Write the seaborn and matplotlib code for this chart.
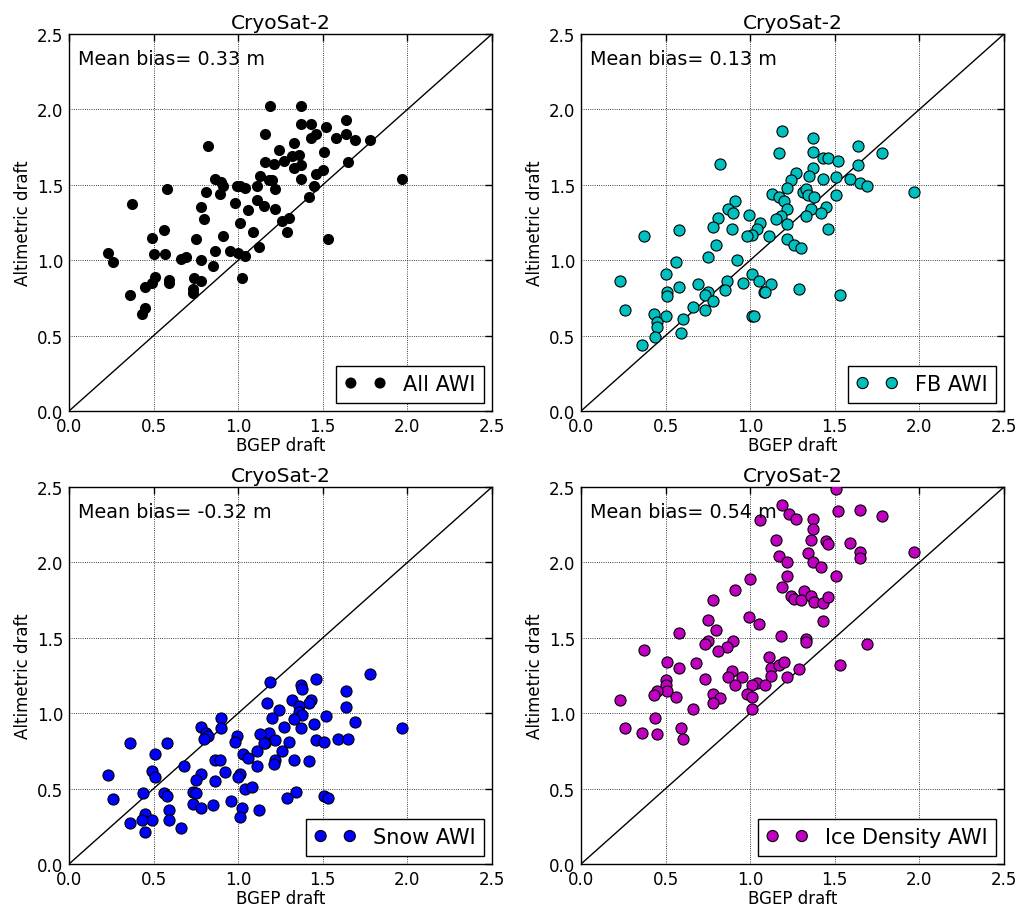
import matplotlib
matplotlib.use("Agg")
import matplotlib.pyplot as plt
import seaborn as sns
import pandas as pd

# ---------------- data ----------------
all_x = [0.82,0.86,0.90,0.91,0.99,1.01,1.04,0.58,0.81,0.89,0.37,0.98,0.78,1.06,0.80,1.01,0.56,0.49,0.91,0.75,
         0.23,0.26,0.50,0.57,0.66,0.69,0.78,0.86,0.95,1.00,1.04,0.85,1.02,0.51,0.49,0.45,0.59,0.59,0.74,0.78,
         0.73,0.73,0.36,0.45,0.43,
         1.19,1.37,1.64,1.37,1.43,1.52,1.16,1.46,1.43,1.64,1.58,1.69,1.78,1.33,1.24,1.51,1.32,1.36,1.27,1.16,
         1.21,1.37,1.33,1.65,1.50,1.46,1.13,1.37,1.18,1.20,1.11,1.45,1.22,1.97,1.42,1.11,1.15,1.22,1.26,1.30,
         1.29,1.09,1.53,1.12]
all_y = [1.76,1.54,1.52,1.49,1.49,1.49,1.48,1.47,1.45,1.44,1.37,1.38,1.35,1.33,1.27,1.25,1.20,1.15,1.16,1.14,
         1.05,0.99,1.04,1.04,1.01,1.02,1.00,1.06,1.06,1.05,1.03,0.96,0.88,0.89,0.85,0.82,0.87,0.85,0.88,0.86,
         0.81,0.78,0.77,0.68,0.64,
         2.02,2.02,1.93,1.90,1.90,1.88,1.84,1.84,1.81,1.84,1.81,1.80,1.80,1.78,1.73,1.72,1.69,1.70,1.66,1.65,
         1.64,1.63,1.61,1.65,1.60,1.57,1.56,1.54,1.53,1.53,1.49,1.49,1.47,1.54,1.42,1.40,1.36,1.34,1.26,1.28,
         1.19,1.19,1.14,1.09]

fb_x = [0.82,0.91,0.87,0.90,0.99,0.81,1.06,1.04,1.01,0.98,0.58,0.78,0.89,0.37,0.80,0.75,0.92,0.56,0.50,1.01,
        1.05,0.23,0.86,0.96,0.69,0.58,0.51,0.51,0.75,0.73,0.85,1.08,0.78,0.66,0.73,0.26,0.43,0.50,0.45,0.45,
        0.60,1.01,1.02,0.59,0.44,0.36,
        1.19,1.37,1.64,1.17,1.37,1.43,1.46,1.52,1.78,1.64,1.37,1.27,1.35,1.24,1.43,1.51,1.59,1.65,1.69,1.97,
        1.22,1.13,1.31,1.33,1.34,1.38,1.17,1.20,1.51,1.22,1.36,1.45,1.42,1.18,1.15,1.33,1.22,1.46,1.11,1.22,
        1.26,1.30,1.12,1.09,1.29,1.53]
fb_y = [1.64,1.39,1.34,1.31,1.30,1.28,1.25,1.21,1.17,1.16,1.20,1.22,1.21,1.16,1.10,1.02,1.00,0.99,0.91,0.91,
        0.86,0.86,0.86,0.85,0.84,0.82,0.79,0.76,0.79,0.77,0.80,0.79,0.73,0.69,0.67,0.67,0.64,0.63,0.59,0.56,
        0.61,0.63,0.63,0.52,0.49,0.44,
        1.86,1.81,1.76,1.71,1.72,1.68,1.68,1.66,1.71,1.63,1.61,1.58,1.56,1.53,1.54,1.55,1.54,1.51,1.49,1.45,
        1.48,1.44,1.45,1.47,1.43,1.42,1.42,1.39,1.43,1.34,1.34,1.35,1.31,1.29,1.27,1.29,1.24,1.21,1.16,1.14,
        1.10,1.08,0.84,0.79,0.81,0.77]

snow_x = [0.36,0.58,0.78,0.81,0.82,0.80,0.90,0.90,0.99,0.98,0.51,0.68,0.49,0.51,0.23,1.03,1.06,0.86,0.89,0.78,
          0.75,0.92,0.86,1.01,1.00,0.44,0.56,0.58,0.73,0.75,1.04,1.08,0.26,0.73,0.78,0.85,0.96,0.59,0.45,0.49,
          0.43,0.59,0.36,0.45,0.66,1.02,1.01,
          1.78,1.19,1.46,1.37,1.38,1.64,1.32,1.43,1.42,1.17,1.36,1.24,1.64,1.36,1.38,1.52,1.20,1.33,1.69,1.45,
          1.27,1.37,1.97,1.18,1.13,1.59,1.65,1.46,1.51,1.22,1.30,1.16,1.15,1.11,1.26,1.22,1.21,1.33,1.42,1.11,
          1.34,1.29,1.51,1.53,1.12]
snow_y = [0.80,0.80,0.91,0.87,0.85,0.83,0.97,0.90,0.85,0.81,0.73,0.65,0.62,0.58,0.59,0.73,0.70,0.69,0.69,0.60,
          0.56,0.61,0.55,0.60,0.58,0.47,0.47,0.45,0.48,0.47,0.50,0.51,0.43,0.40,0.37,0.39,0.42,0.36,0.33,0.29,
          0.29,0.29,0.27,0.21,0.24,0.37,0.31,
          1.26,1.21,1.23,1.19,1.16,1.15,1.09,1.09,1.07,1.07,1.05,1.02,1.04,1.01,0.99,0.98,0.97,0.96,0.94,0.93,
          0.91,0.90,0.90,0.87,0.86,0.83,0.83,0.82,0.81,0.82,0.81,0.80,0.80,0.75,0.75,0.69,0.66,0.69,0.68,0.65,
          0.48,0.44,0.45,0.44,0.36]

dens_x = [1.06,1.00,0.91,0.78,0.75,0.80,0.99,1.05,0.58,0.75,0.73,0.90,0.86,0.81,0.37,0.51,0.58,0.68,0.73,0.89,
          0.87,0.95,0.91,1.04,1.01,0.50,0.50,0.51,0.45,0.43,0.56,0.78,0.82,0.78,0.98,1.01,1.01,0.23,0.66,0.44,
          0.26,0.36,0.45,0.59,0.60,
          1.51,1.19,1.23,1.27,1.37,1.52,1.65,1.78,1.37,1.15,1.36,1.45,1.46,1.59,1.65,1.65,1.97,1.17,1.22,1.34,
          1.37,1.42,1.22,1.51,1.19,1.32,1.24,1.26,1.30,1.36,1.38,1.43,1.46,1.43,1.18,1.33,1.33,1.69,1.11,1.12,
          1.17,1.20,1.12,1.09,1.22,1.29,1.53]
dens_y = [2.28,1.89,1.82,1.75,1.62,1.55,1.64,1.59,1.53,1.48,1.46,1.48,1.44,1.41,1.42,1.34,1.30,1.33,1.23,1.28,
          1.24,1.24,1.19,1.20,1.19,1.22,1.19,1.15,1.15,1.12,1.11,1.13,1.10,1.07,1.13,1.11,1.03,1.09,1.03,0.97,
          0.90,0.87,0.86,0.90,0.83,
          2.49,2.38,2.32,2.29,2.29,2.34,2.35,2.31,2.22,2.15,2.15,2.14,2.12,2.13,2.07,2.03,2.07,2.04,2.00,2.06,
          2.00,1.97,1.91,1.91,1.84,1.81,1.78,1.76,1.75,1.78,1.74,1.73,1.77,1.61,1.51,1.49,1.47,1.46,1.37,1.30,
          1.32,1.34,1.25,1.19,1.24,1.29,1.32]

labels = ["All AWI", "FB AWI", "Snow AWI", "Ice Density AWI"]
bias_texts = ["Mean bias= 0.33 m", "Mean bias= 0.13 m", "Mean bias= -0.32 m", "Mean bias= 0.54 m"]
colors = ["#000000", "#00bfbf", "#0000ff", "#bf00bf"]
title = "CryoSat-2"
ticks = [0.0, 0.5, 1.0, 1.5, 2.0, 2.5]
tick_labels = ["0.0", "0.5", "1.0", "1.5", "2.0", "2.5"]

panels = [(all_x, all_y), (fb_x, fb_y), (snow_x, snow_y), (dens_x, dens_y)]

# ---------------- plot ----------------
sns.set_style("white")
plt.rcParams["font.family"] = ["DejaVu Sans"]
for k in ["text.color", "axes.labelcolor", "xtick.color", "ytick.color", "axes.edgecolor"]:
    plt.rcParams[k] = "black"

fig = plt.figure(figsize=(10.25, 9.12), dpi=100)
positions = [
    [69/1025, 1-412/912, 423/1025, 377/912],
    [581/1025, 1-412/912, 423/1025, 377/912],
    [69/1025, 1-865/912, 423/1025, 377/912],
    [581/1025, 1-865/912, 423/1025, 377/912],
]

for i, ((xs, ys), lab, bt, col, pos) in enumerate(zip(panels, labels, bias_texts, colors, positions)):
    ax = fig.add_axes(pos)
    df = pd.DataFrame({"x": xs, "y": ys})
    ax.plot([0, 2.5], [0, 2.5], color="black", lw=1.0, zorder=1)
    sns.scatterplot(data=df, x="x", y="y", ax=ax, color=col, s=64,
                    edgecolor="black", linewidth=0.8 if i > 0 else 0.0,
                    label=lab, zorder=3)
    ax.set_xlim(0, 2.5)
    ax.set_ylim(0, 2.5)
    ax.set_xticks(ticks)
    ax.set_yticks(ticks)
    ax.set_xticklabels(tick_labels, fontsize=12)
    ax.set_yticklabels(tick_labels, fontsize=12)
    ax.tick_params(direction="in", top=True, right=True, length=5, width=1)
    ax.tick_params(axis="x", pad=4)
    ax.tick_params(axis="y", pad=4)
    ax.grid(True, linestyle=":", color="black", linewidth=0.6)
    ax.set_axisbelow(True)
    for sp in ax.spines.values():
        sp.set_color("black")
        sp.set_linewidth(1.0)
    ax.set_xlabel("BGEP draft", fontsize=12, labelpad=1)
    ax.set_ylabel("Altimetric draft", fontsize=12, labelpad=4)
    ax.set_title(title, fontsize=14.5, pad=4)
    ax.text(0.021, 0.936, bt, transform=ax.transAxes, fontsize=13.8, va="center", ha="left")
    leg = ax.legend(loc="lower right", scatterpoints=2, scatteryoffsets=[0.5],
                    fontsize=15, fancybox=False, markerscale=1.0,
                    frameon=True, framealpha=1, edgecolor="black", borderpad=0.4,
                    handlelength=2.0, handletextpad=0.8, borderaxespad=0.4)
    leg.get_frame().set_linewidth(1.0)

fig.savefig("out.png", dpi=100)
